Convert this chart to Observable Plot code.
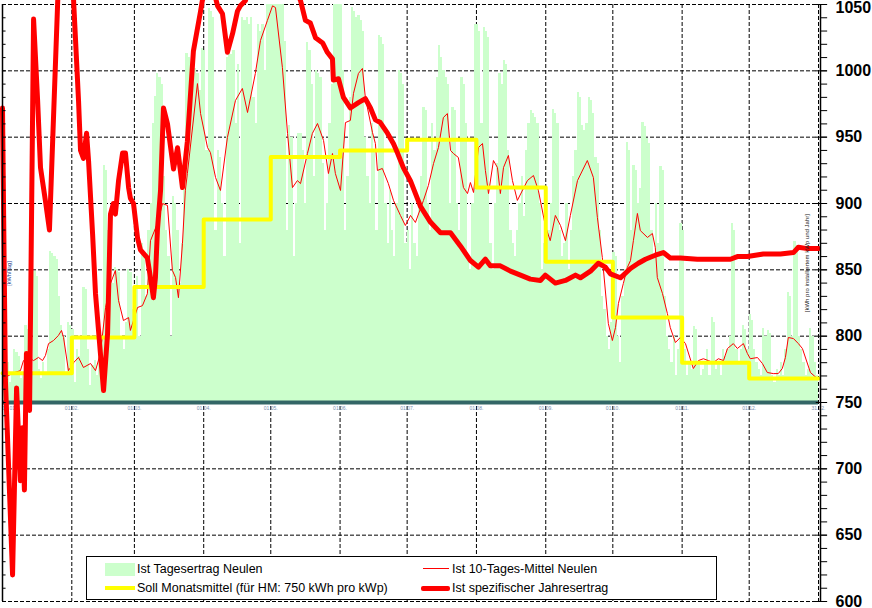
<!DOCTYPE html>
<html>
<head>
<meta charset="utf-8">
<script src="https://cdn.jsdelivr.net/npm/d3@7"></script>
<script src="https://cdn.jsdelivr.net/npm/@observablehq/plot@0.6"></script>
<style>
  html, body { margin: 0; padding: 0; background: #fff; overflow: hidden; }
  #wrap { position: relative; width: 872px; height: 608px; }
  #legend { position: absolute; left: 86px; top: 556px; width: 629px; height: 42px;
            border: 1px solid #000; background: #fff; font-family: "Liberation Sans", Arial, sans-serif;
            font-size: 12.5px; color: #000; }
  .sw { position: absolute; }
  .lt { position: absolute; white-space: nowrap; line-height: 14px; }
</style>
</head>
<body>
<div id="wrap"></div>
<script>
// ---- Data ----
const monthStarts = [0, 31, 59, 90, 120, 151, 181, 212, 243, 273, 304, 334];
const monthLabels = ["01.01.", "01.02.", "01.03.", "01.04.", "01.05.", "01.06.", "01.07.", "01.08.", "01.09.", "01.10.", "01.11.", "01.12.", "31.12."];
const sollMonat = [772, 799, 837, 888, 935, 940, 948, 912, 856, 814, 780, 768];

// daily yield (displayed in axis units, bars from 750)
const tagJan = [775,770,780,765,772,790,788,785,768,772, 808,805,800,770,849,845,775,768,780,772, 790,864,862,860,858,830,808,800,770,810,808];
const tagFeb = [805,765,790,785,800,837,835,790,763,778, 782,770,790,800,929,925,880,878,840,852, 850,848,800,790,810,850,848,820];
const tagMar = [835,845,800,870,860,830,880,900,960,981,998,995,990, 920,880,860,800,905,900,880,840,870,930,1013,1010,1005,1012,1002,998,985,1017];
const tagApr = [1015,940,1047,1045,1040,880,940,935,900,860, 1010,1015,1012,1015,960,1005,870,1040,1038,1040, 1035,1040,980,960,1035,1030,1035,1000,1080,1080];
const tagMai = [1080,1075,1080,1070,1065,1060,1022,880,959,950,860,900,953,953,940,900, 1021,1015,990,920,1000,998,995,930,880,900,960,990,1060,1070,1065];
const tagJun = [1060,1000,880,920,980,1048,1045,1040,1042,1038,1030,950,920,900,960,940,880,1027,1025,1020, 900,870,910,880,860,900,1000,998,990,870];
const tagJul = [880,850,900,870,860,900,920,972,970,900,880,960,940,995,1019,1010,1000,995,990,900, 972,970,900,880,995,990,960,860,850,900,1035];
const tagAug = [1035,1030,960,1033,1030,1025,870,850,900,930, 998,990,1008,1005,940,880,870,860,880,900, 920,890,940,960,970,968,965,960,900,850,870];
const tagSep = [860,880,900,971,968,960,880,860,870,900, 850,880,920,940,984,980,959,955,960,980, 978,968,935,930,880,830,820,800,790,810];
const tagOkt = [863,860,800,780,830,850,946,940,880,929, 925,900,911,961,958,949,945,880,860,900, 870,928,925,830,800,790,780,800,770,790,885];
const tagNov = [880,790,770,780,775,807,805,780,770,775, 780,790,770,814,810,775,780,770,790,785, 790,800,885,880,790,780,790,808,805,790];
const tagDez = [816,812,790,780,775,770,806,800,804,802, 770,765,775,770,780,770,790,833,830,800, 871,868,800,790,780,770,775,806,800,780,770];

// 10-day mean
const mittelTag  = [0,5.4,8,9.4,12.5,13.9,16.1,17.9,19.2,20.6,22.8,25,26.4,27.3,29.5,31.8,34,36.2,39.4,41.6,43.8,46.1,48.3,50.5,51.9,54.1,56.4,57.2,60.4,62.6,64.8,66.2,69.3,71.6,73.8,76,77.4,78.7,80.5,81.8,82.7,87.2,88.6,91.7,93,95.3,97.5,100.6,104.2,107.3,109.6,113.1,115.4,118.5,120.8,122.1,125.2,127.5,129.7,131.9,133.3,136.4,138.6,140.9,143.6,145.8,147.6,148.9,151.2,153.4,155.6,157,159.2,161,162.3,165.5,166.8,167.7,169.9,172.6,174.9,178,180.2,182.5,184.7,188.3,190.5,192.8,195,197.2,199,200.4,201.7,203.9,206.2,208,209.3,210.7,212.9,214.7,216,217.4,219.6,221.4,222.7,224.1,226.3,228.1,230.3,234.8,237.5,239.7,242.8,245,247.3,249.6,251.8,254,257.2,261.6,264.3,266.1,268.3,271,272.8,274.2,275.5,277.7,279.5,280.9,282.2,284,285.3,288.5,290.7,292,292.9,295.2,297.4,298.7,301,303.2,305.5,309,311.3,313.5,315.7,318,320.2,322.5,324.3,326.9,328.7,331.4,333.2,334.5,337.7,339.9,342.1,344.8,347,348.8,350.2,351.5,353.8,356,357.8,361.4,364.5];
const mittelWert = [768,772.6,774,781.6,783,781.6,784,781.6,785.4,794.4,796.7,800.5,804.3,799,774,780,784,776.4,779.4,774,787,821.6,839.7,849.5,826.9,811.8,814,804.3,821.6,823,832,872,885,900,898.5,849.5,844.2,829,870,910,922.6,990.4,967.8,942.2,938.4,919.6,909.8,949.7,977.6,986.7,968.6,998,1022.9,1038,1049,1047.7,1002.5,952.8,912,917.3,915,937.7,952.8,960.3,947.5,922.6,937.7,922.6,909.8,961,962.6,983,998,1001.8,979.9,953.5,945.2,924.9,926.4,915,902.3,891,883.4,891,885.7,902.3,913.6,930.1,942.2,964.8,967.8,940,937.7,934.7,912,907.5,915.8,908.3,942.2,945.2,924.9,907.5,932.4,927.1,907.5,927.1,936.2,917.3,902.3,917.3,921.1,909.8,883.4,872,891,883.4,872,891,917.3,932.4,919.6,889.4,859.3,809.5,796.7,806.5,824.6,839.7,851.8,857,872,892.5,879.6,874.4,877.4,866.8,844.2,832.2,817.1,806.5,795.2,799,794.4,775.6,781.6,783,781.6,780.1,783,781.6,790.7,794.4,790.7,794.4,786.9,783,783.9,779.4,772.6,771.8,771.8,775.6,783.9,799,798.2,794.4,790.7,772.6,768];

// specific annual yield
const jahrTag  = [0,1.3,4.5,6.3,8,8.9,9.8,10.7,12.1,13.9,15.7,17,19.2,21,27,31.8,34,34.9,36.2,37.6,38.5,40.3,41.6,43.8,45.2,47,48.3,49.6,50.5,51.9,53.7,55,56.4,57.2,58.6,60.4,61.7,64.8,66.2,67.5,68.4,69.3,70.7,72,73.8,76.5,78.3,80.5,82.7,85.4,88.6,89.4,93,96.2,98.4,100.6,102.9,105.1,106.4,108.7,111,129,133.3,135.5,137.7,140,143.2,145.3,147.6,148,150.3,152.5,155.6,159.2,162.3,164.6,166.8,169,172.2,174.9,176.7,179.3,182.5,186,186.9,191.4,195.9,200.4,204.8,209.3,212.9,216,218.2,222.7,227.2,231.7,236.1,240.6,242.8,247.3,251.8,256.3,258.5,263,266.5,269.7,271.9,276.4,280.9,284.4,287.6,292,295.6,298.7,303.2,310.8,318,325.6,328.7,333.2,340.3,348,353.8,356,360,365];
const jahrWert = [972,767,620,761,691,731,684,787,744,1039,978,927,902,880,1160,1053,978,940,934,953,932,877,832,787,759,802,892,900,892,917,938,938,912,904,900,874,865,859,844,829,844,880,910,972,960,926,942,912,947,1015,1045,1053,1070,1049,1043,1014,1028,1045,1049,1053,1070,1070,1053,1038,1036,1025,1021,1014,1009,993,994,980,972,976,979,972,963,961,953,945,938,927,917,902,898,886,878,878,868,857,852,858,853,853,849,846,843,842,846,840,842,846,844,849,855,852,847,844,851,855,858,861,863,859,859,858,858,858,860,860,862,862,863,867,866,866];

// axis ticks
const majorTicks = [600, 650, 700, 750, 800, 850, 900, 950, 1000, 1050];
const minorTicks = d3.range(600, 1051, 10);

// ---- Build tables ----
const tage = [...tagJan, ...tagFeb, ...tagMar, ...tagApr, ...tagMai, ...tagJun, ...tagJul, ...tagAug, ...tagSep, ...tagOkt, ...tagNov, ...tagDez];
const bars = tage.map((v, i) => ({day: i, v}));
const mittel = mittelTag.map((d, i) => ({day: d, v: mittelWert[i]}));
const jahr = jahrTag.map((d, i) => ({day: d, v: jahrWert[i]}));
const soll = monthStarts.map((d, i) => ({day: d, v: sollMonat[i]})).concat([{day: 365, v: sollMonat[11]}]);
const gridXs = monthStarts.slice(1).concat([365]);
const labelXs = monthStarts.concat([365]).map((d, i) => ({day: d, t: monthLabels[i]}));

const dash = {stroke: "#000", strokeOpacity: 1, strokeWidth: 1, strokeDasharray: "4,2"};
const lblFont = {fontSize: 16, fontWeight: "bold", fill: "#000", textAnchor: "start"};

const chart = Plot.plot({
  width: 872, height: 608,
  marginLeft: 2, marginRight: 54, marginTop: 4, marginBottom: 7,
  style: {background: "#fff", fontFamily: "'Liberation Sans', Arial, sans-serif", overflow: "visible"},
  x: {domain: [0, 365], axis: null},
  y: {domain: [600, 1050], axis: null},
  marks: [
    Plot.gridY(majorTicks, {...dash}),
    Plot.gridX(gridXs, {...dash}),
    Plot.rect(bars, {x1: "day", x2: d => d.day + 1, y1: 750, y2: "v", fill: "#ccffcc", clip: true, shapeRendering: "crispEdges"}),
    Plot.ruleY([750], {stroke: "#336666", strokeWidth: 4}),
    Plot.text(labelXs.slice(0, 1), {x: "day", y: 750, text: "t", dy: 6, fontSize: 5, fill: "#7a90b0", textAnchor: "start"}),
    Plot.text(labelXs.slice(1), {x: "day", y: 750, text: "t", dy: 6, fontSize: 5, fill: "#7a90b0"}),
    Plot.line(mittel, {x: "day", y: "v", stroke: "#ff0000", strokeWidth: 1}),
    Plot.line(soll, {x: "day", y: "v", curve: "step-after", stroke: "#ffff00", strokeWidth: 4}),
    Plot.line(jahr, {x: "day", y: "v", stroke: "#ff0000", strokeWidth: 5, strokeLinejoin: "round"}),
    // left axis line and inward minor ticks
    Plot.ruleX([0], {stroke: "#000", strokeWidth: 1.5}),
    Plot.ruleY(minorTicks, {x1: 0, x2: 1.6, stroke: "#000"}),
    // right axis line, ticks and labels
    Plot.ruleX([365], {stroke: "#000", strokeWidth: 1.5, dx: 2}),
    Plot.ruleY(minorTicks, {x1: 365, x2: 368.2, dx: 2, stroke: "#000"}),
    Plot.ruleY(majorTicks, {x1: 364, x2: 369, stroke: "#000"}),
    Plot.text(majorTicks.slice(0, -1), {x: 365, y: d => d, text: d => String(d), dx: 17, ...lblFont}),
    Plot.text(majorTicks.slice(-1), {x: 365, y: d => d, text: d => String(d), dx: 17, dy: 3, ...lblFont}),
    Plot.text(["[kWh/Tag]"], {frameAnchor: "left", y: 838, dx: 7, rotate: -90, fontSize: 5.5, fill: "#1a3a8a"}),
    Plot.text(["[kWh pro installiertem kWp und Jahr]"], {x: 360, y: 855, rotate: -90, fontSize: 6, fill: "#222"})
  ]
});

const wrap = document.getElementById("wrap");
wrap.appendChild(chart);

// legend (overlaid inside the plot area, like the original)
const legend = document.createElement("div");
legend.id = "legend";
legend.innerHTML = `
  <div class="sw" style="left:18px;top:6px;width:30px;height:13px;background:#ccffcc"></div>
  <div class="lt" style="left:50px;top:5px">Ist Tagesertrag Neulen</div>
  <div class="sw" style="left:18px;top:29px;width:30px;height:4px;background:#ffff00"></div>
  <div class="lt" style="left:50px;top:24px">Soll Monatsmittel (für HM: 750 kWh pro kWp)</div>
  <div class="sw" style="left:336px;top:11px;width:26px;height:1px;background:#ff0000"></div>
  <div class="lt" style="left:365px;top:5px">Ist 10-Tages-Mittel Neulen</div>
  <div class="sw" style="left:334px;top:29px;width:29px;height:5px;background:#ff0000;border-radius:2px"></div>
  <div class="lt" style="left:365px;top:24px">Ist spezifischer Jahresertrag</div>`;
wrap.appendChild(legend);
</script>
</body>
</html>
